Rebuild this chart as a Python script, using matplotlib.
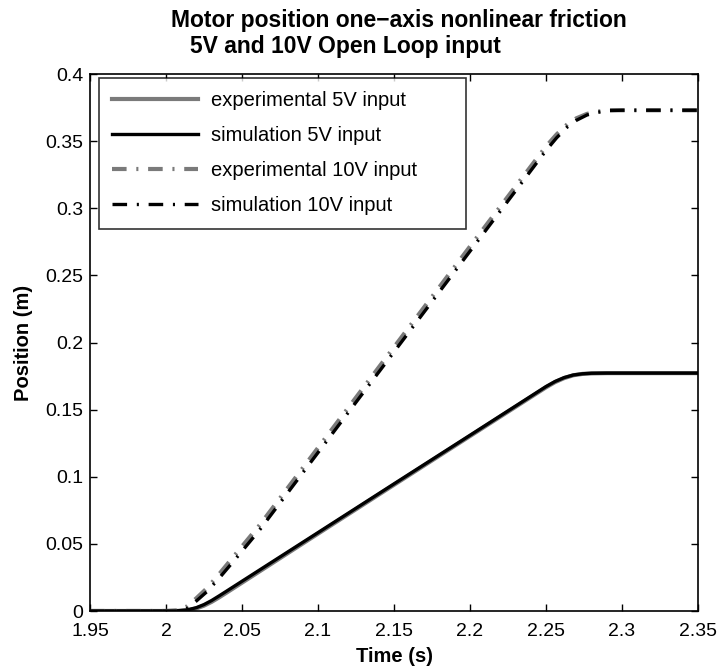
import matplotlib
matplotlib.use("Agg")
import matplotlib.pyplot as plt

plt.rcParams['font.family'] = ['Liberation Sans', 'DejaVu Sans']
plt.rcParams['lines.scale_dashes'] = False

# ---- data ----
t_5V = [1.95, 2.000, 2.008, 2.014, 2.020, 2.025, 2.030, 2.035, 2.040, 2.060, 2.100,
        2.150, 2.200, 2.250, 2.256, 2.262, 2.268, 2.274, 2.280, 2.290, 2.35]
sim_5V = [0, 0, 0.0002, 0.0008, 0.0025, 0.0048, 0.0078, 0.0113, 0.0149, 0.0294, 0.0584,
          0.0947, 0.1309, 0.1672, 0.1710, 0.1739, 0.1758, 0.1767, 0.1771, 0.1772, 0.1772]
exp_5V = [0, 0, 0.0001, 0.0005, 0.0019, 0.0040, 0.0068, 0.0102, 0.0138, 0.0284, 0.0576,
          0.0940, 0.1303, 0.1666, 0.1705, 0.1735, 0.1756, 0.1766, 0.1770, 0.1772, 0.1772]

t_10V = [1.95, 2.000, 2.008, 2.014, 2.020, 2.027, 2.035, 2.047, 2.062, 2.100, 2.150,
         2.200, 2.250, 2.257, 2.264, 2.270, 2.277, 2.284, 2.292, 2.300, 2.35]
sim_10V = [0, 0, 0.0, 0.0020, 0.0075, 0.0145, 0.0245, 0.0405, 0.0610, 0.1180, 0.1930,
           0.2680, 0.3430, 0.3525, 0.3605, 0.3655, 0.3695, 0.3715, 0.3728, 0.3730, 0.3730]
exp_10V = [0, 0, 0.0005, 0.0035, 0.0095, 0.0170, 0.0275, 0.0440, 0.0645, 0.1215, 0.1965,
           0.2715, 0.3460, 0.3550, 0.3625, 0.3670, 0.3703, 0.3720, 0.3730, 0.3730, 0.3730]

x_ticks = [1.95, 2.0, 2.05, 2.1, 2.15, 2.2, 2.25, 2.3, 2.35]
x_labels = ['1.95', '2', '2.05', '2.1', '2.15', '2.2', '2.25', '2.3', '2.35']
y_ticks = [0, 0.05, 0.1, 0.15, 0.2, 0.25, 0.3, 0.35, 0.4]
y_labels = ['0', '0.05', '0.1', '0.15', '0.2', '0.25', '0.3', '0.35', '0.4']

labels = ['experimental 5V input', 'simulation 5V input',
          'experimental 10V input', 'simulation 10V input']

W, H = 721, 671
fig = plt.figure(figsize=(W / 100, H / 100), dpi=100)
ax = fig.add_axes([90 / W, 1 - 611 / H, 608 / W, 537 / H])

dashdot = (0, (10.5, 7, 1.5, 7))
gray = '#7a7a7a'
ax.plot(t_5V, exp_5V, color=gray, lw=3.0, label=labels[0])
ax.plot(t_5V, sim_5V, color='black', lw=2.4, label=labels[1])
ax.plot(t_10V, exp_10V, color=gray, lw=3.0, ls=dashdot, label=labels[2])
ax.plot(t_10V, sim_10V, color='black', lw=2.4, ls=dashdot, label=labels[3])

ax.set_xlim(1.95, 2.35)
ax.set_ylim(0, 0.4)
ax.set_xticks(x_ticks)
ax.set_xticklabels(x_labels)
ax.set_yticks(y_ticks)
ax.set_yticklabels(y_labels)
ax.tick_params(direction='in', length=5, width=1, top=True, right=True,
               labelsize=14)
ax.tick_params(axis='x', pad=9)
ax.tick_params(axis='y', pad=5)
for s in ax.spines.values():
    s.set_linewidth(1.2)

ax.set_xlabel('Time (s)', fontsize=14.5, fontweight='bold', labelpad=5)
ax.set_ylabel('Position (m)', fontsize=14.5, fontweight='bold', labelpad=9)

lx0 = (99 - 90) / 608
ly1 = (611 - 78) / 537
lw_ = (466 - 99) / 608
lh_ = (229 - 78) / 537
leg = ax.legend(loc='upper left', bbox_to_anchor=(lx0, ly1 - lh_, lw_, lh_),
                mode='expand', borderaxespad=0, fontsize=14.5, frameon=True,
                fancybox=False, handlelength=4.25, handletextpad=0.65,
                labelspacing=0.8, borderpad=0.65, edgecolor='black')
leg.get_frame().set_linewidth(1.2)

fig.text(399 / W, 1 - 21 / H, 'Motor position one\u2212axis nonlinear friction',
         ha='center', va='center', fontsize=16.5, fontweight='bold')
fig.text(190 / W, 1 - 47 / H, '5V and 10V Open Loop input',
         ha='left', va='center', fontsize=16.5, fontweight='bold')

fig.savefig('out.png', dpi=100)
